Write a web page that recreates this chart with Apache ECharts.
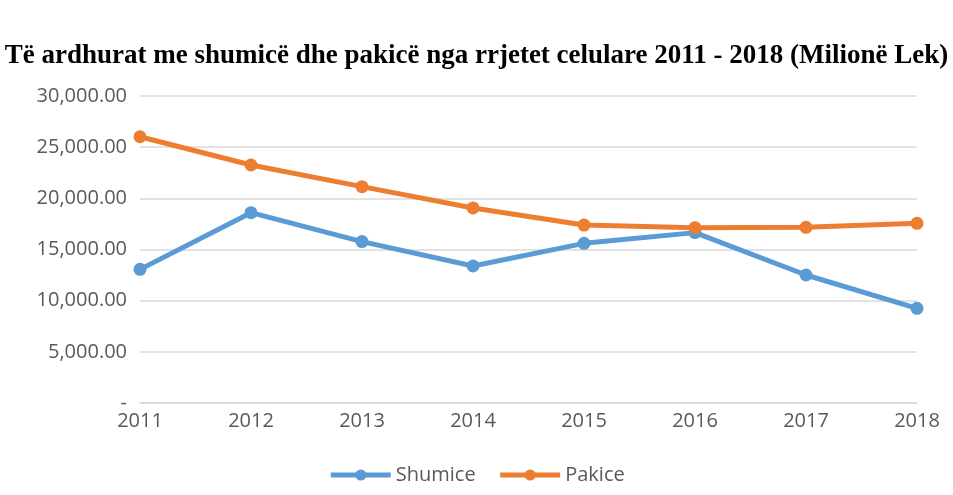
<!DOCTYPE html>
<html>
<head>
<meta charset="utf-8">
<script src="https://cdn.jsdelivr.net/npm/echarts@6/dist/echarts.min.js"></script>
<style>
  html, body { margin: 0; padding: 0; background: #fff; }
  #chart { width: 953px; height: 495px; }
</style>
</head>
<body>
<div id="chart"></div>
<script>
const years = ['2011', '2012', '2013', '2014', '2015', '2016', '2017', '2018']
const shumice = [13060, 18600, 15770, 13390, 15600, 16650, 12510, 9250]
const pakice = [26020, 23260, 21140, 19060, 17390, 17130, 17170, 17560]

const fmt = (v) => v === 0 ? '-' : v.toLocaleString('en-US', { minimumFractionDigits: 2, maximumFractionDigits: 2 })

const chart = echarts.init(document.getElementById('chart'))
chart.setOption({
  backgroundColor: '#fff',
  animation: false,
  title: {
    text: 'Të ardhurat me shumicë dhe pakicë nga rrjetet celulare 2011 - 2018 (Milionë Lek)',
    left: 'center',
    top: 38,
    textStyle: {
      fontFamily: 'Liberation Serif',
      fontSize: 27,
      fontWeight: 'bold',
      color: '#000'
    }
  },
  grid: { left: 140, right: 36, top: 96, bottom: 92 },
  xAxis: {
    type: 'category',
    data: years,
    boundaryGap: false,
    axisLine: { lineStyle: { color: '#d9d9d9', width: 1.5 } },
    axisTick: { show: false },
    axisLabel: { color: '#595959', fontSize: 20, fontFamily: 'Open Sans', margin: 8 }
  },
  yAxis: {
    type: 'value',
    min: 0,
    max: 30000,
    interval: 5000,
    axisLine: { show: false },
    axisTick: { show: false },
    splitLine: { lineStyle: { color: '#d9d9d9', width: 1.5 } },
    axisLabel: { color: '#595959', fontSize: 20, fontFamily: 'Open Sans', margin: 13, formatter: fmt }
  },
  legend: {
    bottom: 5,
    left: 'center',
    itemWidth: 60,
    itemHeight: 14,
    itemGap: 22,
    lineStyle: { width: 5 },
    textStyle: { color: '#595959', fontSize: 20, fontFamily: 'Open Sans' },
    data: ['Shumice', 'Pakice']
  },
  series: [
    {
      name: 'Shumice',
      type: 'line',
      data: shumice,
      symbol: 'circle',
      symbolSize: 13,
      color: '#5b9bd5',
      lineStyle: { width: 5, color: '#5b9bd5' },
      itemStyle: { color: '#5b9bd5' }
    },
    {
      name: 'Pakice',
      type: 'line',
      data: pakice,
      symbol: 'circle',
      symbolSize: 13,
      color: '#ed7d31',
      lineStyle: { width: 5, color: '#ed7d31' },
      itemStyle: { color: '#ed7d31' }
    }
  ]
})
</script>
</body>
</html>
